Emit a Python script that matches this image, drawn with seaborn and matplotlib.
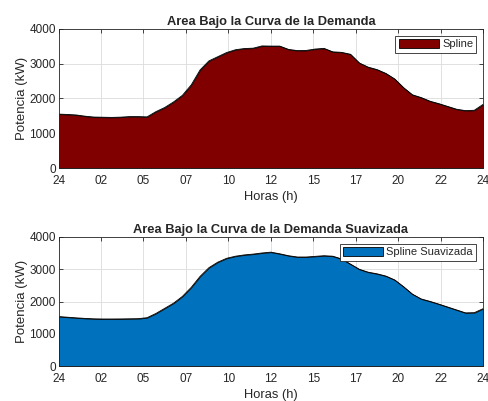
import numpy as np
import pandas as pd
import seaborn as sns
import matplotlib.pyplot as plt

# horas del dia (cada media hora)
horas = [0, 0.5, 1, 1.5, 2, 2.5, 3, 3.5, 4, 4.5, 5, 5.5, 6, 6.5, 7, 7.5, 8, 8.5,
         9, 9.5, 10, 10.5, 11, 11.5, 12, 12.5, 13, 13.5, 14, 14.5, 15, 15.5, 16,
         16.5, 17, 17.5, 18, 18.5, 19, 19.5, 20, 20.5, 21, 21.5, 22, 22.5, 23,
         23.5, 24]

demanda = [1550, 1540, 1525, 1490, 1465, 1460, 1455, 1462, 1478, 1478, 1470,
           1620, 1740, 1900, 2090, 2390, 2820, 3080, 3200, 3320, 3400, 3435,
           3445, 3510, 3505, 3505, 3410, 3375, 3380, 3420, 3440, 3340, 3325,
           3270, 3020, 2900, 2830, 2720, 2560, 2310, 2105, 2025, 1920, 1850,
           1770, 1690, 1650, 1660, 1830]

# demanda suavizada (kW)
demanda_suave = [1535, 1515, 1495, 1478, 1465, 1460, 1460, 1462, 1466, 1470,
                 1500, 1630, 1790, 1950, 2160, 2440, 2780, 3050, 3220, 3340,
                 3405, 3445, 3470, 3505, 3530, 3480, 3420, 3380, 3380, 3400,
                 3420, 3405, 3320, 3160, 3000, 2910, 2860, 2790, 2670, 2460,
                 2230, 2080, 2005, 1920, 1830, 1740, 1650, 1655, 1780]

etiquetas_x = ["24", "02", "05", "07", "10", "12", "15", "17", "20", "22", "24"]

df = pd.DataFrame({"horas": horas, "demanda": demanda, "suave": demanda_suave})

sns.set_theme(style="ticks")
plt.rcParams['font.family'] = ['Liberation Sans', 'DejaVu Sans']

fig = plt.figure(figsize=(4.88, 4.01), dpi=100)
ax1 = fig.add_axes([0.120, 0.581, 0.870, 0.347])
ax2 = fig.add_axes([0.120, 0.087, 0.870, 0.322])

gris = (0.15, 0.15, 0.15)

def dibujar(ax, col, color, titulo, nombre):
    ax.fill_between(df["horas"], df[col], 0, color=color, edgecolor="black",
                    linewidth=0.6, label=nombre, zorder=2)
    sns.lineplot(data=df, x="horas", y=col, ax=ax, color="black", lw=0.6,
                 zorder=3, legend=False)
    ax.set_xlim(0, 24)
    ax.set_ylim(0, 4000)
    ax.set_xticks(np.linspace(0, 24, 11))
    ax.set_xticklabels(etiquetas_x)
    ax.set_yticks([0, 1000, 2000, 3000, 4000])
    ax.grid(True, color="#dcdcdc", lw=0.6, zorder=0)
    ax.set_axisbelow(True)
    ax.tick_params(direction="in", top=True, right=True, length=3, width=0.6,
                   labelsize=8.5, colors=gris, pad=2)
    ax.tick_params(axis="x", pad=5)
    for s in ax.spines.values():
        s.set_color(gris)
        s.set_linewidth(0.6)
        s.set_zorder(4)
    ax.set_title(titulo, fontsize=9.3, fontweight="bold", pad=3)
    ax.set_xlabel("Horas (h)", fontsize=9.3, color=gris, labelpad=3)
    ax.set_ylabel("Potencia (kW)", fontsize=9.5, color=gris, labelpad=1)
    leg = ax.legend(loc="upper right", fontsize=8, frameon=True, fancybox=False,
                    framealpha=1, edgecolor=gris, handlelength=3.6,
                    handleheight=0.9, handletextpad=0.3, borderpad=0.3,
                    borderaxespad=0.6)
    leg.get_frame().set_linewidth(0.6)

dibujar(ax1, "demanda", "#800000", "Area Bajo la Curva de la Demanda", "Spline")
dibujar(ax2, "suave", "#0072BD", "Area Bajo la Curva de la Demanda Suavizada",
        "Spline Suavizada")

plt.savefig("out.png", dpi=100)
